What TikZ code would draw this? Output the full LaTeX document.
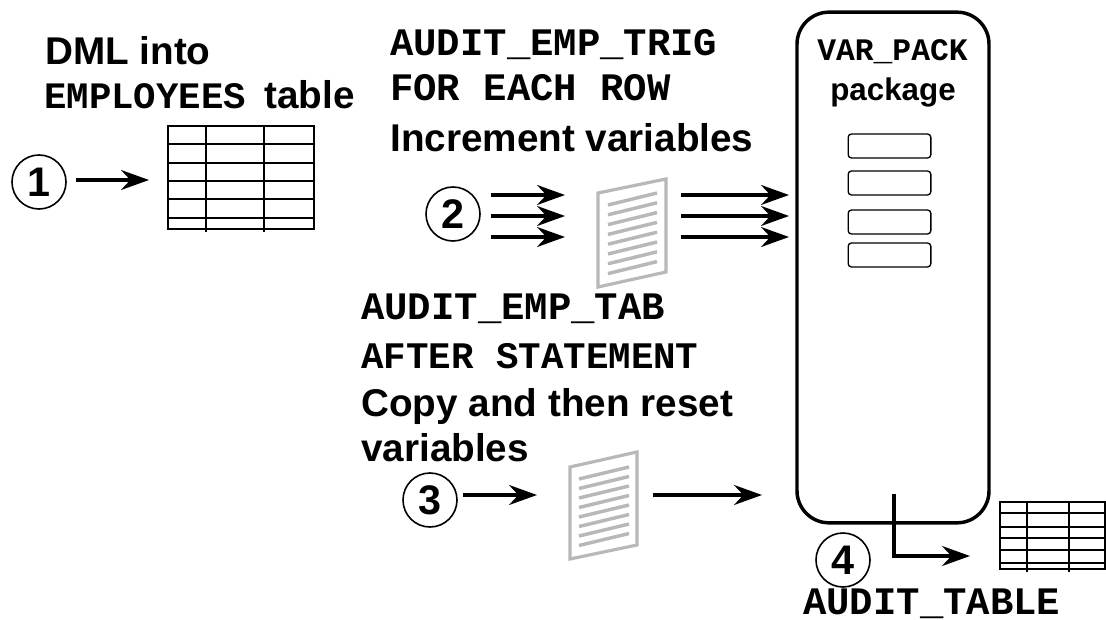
\documentclass[tikz,border=0pt]{standalone}
\usepackage{fontspec}
\setmainfont{Liberation Sans}
\setmonofont{Liberation Mono}
\usetikzlibrary{arrows.meta}

\begin{document}
\begin{tikzpicture}[x=0.75pt,y=-0.75pt,
    flow/.style={line width=2.3pt,-{Stealth[length=21pt,width=15pt,inset=7pt]}},
    marker/.style={draw,circle,line width=1.2pt,minimum size=40.5pt,inner sep=0pt,font=\fontsize{31}{31}\bfseries},
    heading/.style={anchor=base west,inner sep=0pt,font=\fontsize{29}{29}\bfseries},
    code/.style={anchor=base west,inner sep=0pt,font=\fontsize{29.2}{29.2}\ttfamily\bfseries},
    slot/.style={draw,rounded corners=2.5pt,line width=1pt,minimum width=62pt,minimum height=18pt,inner sep=0pt},
    pack/.style={draw,rounded corners=24pt,line width=2.6pt,minimum width=144pt,minimum height=383pt,inner sep=0pt},
    sheet/.style={draw=black!28,line width=2.4pt},
    rule/.style={draw=black!28,line width=2.6pt},
    grid/.style={line width=1.1pt}]
    \useasboundingbox (0,0) rectangle (1106,620);

    \node[heading] (dmlone) at (45,65) {DML into};
    \node[code,font=\fontsize{28}{28}\ttfamily\bfseries] (emptext) at (44,109) {EMPLOYEES};
    \node[heading] (tabletext) at (264,109) {table};
    \node[code] (trigname) at (390,56) {AUDIT\_EMP\_TRIG};
    \node[code] (rowname) at (390,101) {FOR EACH ROW};
    \node[heading] (inctext) at (390,152) {Increment variables};
    \node[code] (tabname) at (361,319) {AUDIT\_EMP\_TAB};
    \node[code,font=\fontsize{28.1}{28.1}\ttfamily\bfseries] (aftername) at (361,368) {AFTER STATEMENT};
    \node[heading] (copytext) at (361,416) {Copy and then reset};
    \node[heading] (vartext) at (361,461) {variables};
    \node[code] (audname) at (803,614) {AUDIT\_TABLE};

    \node[marker] (one) at (39,182) {1};
    \node[marker] (two) at (453,214) {2};
    \node[marker] (three) at (430,500) {3};
    \node[marker] (four) at (843,560) {4};

    \node[pack] (varpack) at (893,267.5) {};
    \node[code,font=\fontsize{23.5}{23.5}\ttfamily\bfseries] (packname) at (817,61) {VAR\_PACK};
    \node[heading,font=\fontsize{23.5}{23.5}\bfseries] (packtext) at (830,101) {package};
    \node[slot] (slota) at (889.5,146) {};
    \node[slot] (slotb) at (889.5,183) {};
    \node[slot] (slotc) at (889.5,222) {};
    \node[slot] (slotd) at (889.5,255) {};

    \draw[grid] (168,126) rectangle (314,229);
    \foreach \rowy in {144,163,181,199,218}
        \draw[grid] (168,\rowy) -- (315,\rowy);
    \foreach \colx in {206,264}
        \draw[grid] (\colx,126) -- (\colx,232);

    \draw[grid] (1000,502) rectangle (1105,569);
    \foreach \rowy in {513,527,538,550,563}
        \draw[grid] (1000,\rowy) -- (1105,\rowy);
    \foreach \colx in {1027,1069}
        \draw[grid] (\colx,502) -- (\colx,572);

    \draw[sheet] (598,193) -- (666,179) -- (666,272) -- (598,287) -- cycle;
    \foreach \i in {0,...,7}
        \draw[rule] (608,205+9.8*\i) -- (657,193+9.8*\i);
    \draw[sheet] (570,467) -- (637,452) -- (637,545) -- (570,559) -- cycle;
    \foreach \i in {0,...,7}
        \draw[rule] (579,479+9.5*\i) -- (629,467+9.5*\i);

    \coordinate (onestart) at (76,180);
    \coordinate (oneend) at (149,180);
    \draw[flow] (onestart) -- (oneend);

    \foreach \rowy/\tag in {195/a,216/b,237/c} {
        \coordinate (twostart\tag) at (491,\rowy);
        \coordinate (twoend\tag) at (565,\rowy);
        \coordinate (packstart\tag) at (681,\rowy);
        \coordinate (packend\tag) at (789,\rowy);
        \draw[flow] (twostart\tag) -- (twoend\tag);
        \draw[flow] (packstart\tag) -- (packend\tag);
    }

    \coordinate (threestart) at (463,495);
    \coordinate (threeend) at (537,495);
    \coordinate (copystart) at (653,495);
    \coordinate (copyend) at (762,495);
    \draw[flow] (threestart) -- (threeend);
    \draw[flow] (copystart) -- (copyend);

    \coordinate (fourstart) at (894,494);
    \coordinate (fourbend) at (894,556);
    \coordinate (fourend) at (970,556);
    \draw[flow] (fourstart) -- (fourbend) -- (fourend);
\end{tikzpicture}
\end{document}
